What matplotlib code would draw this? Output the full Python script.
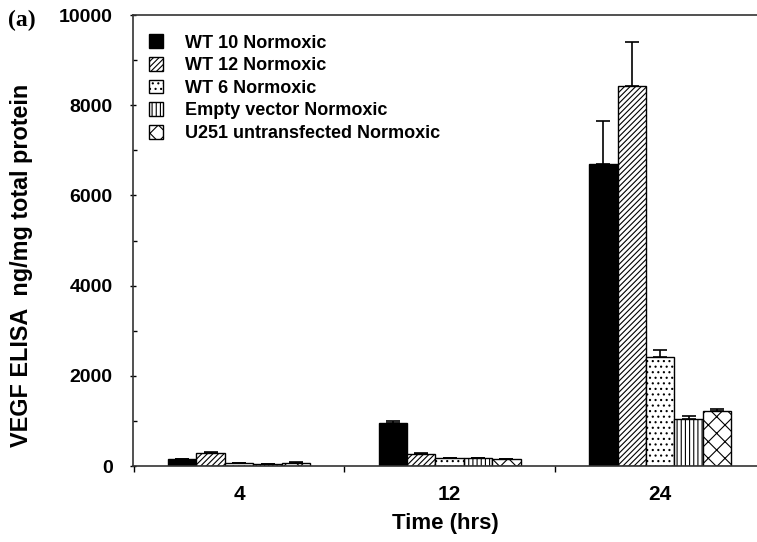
import numpy as np
import matplotlib.pyplot as plt
from matplotlib.ticker import MultipleLocator

plt.rcParams['font.family'] = ['Liberation Sans', 'DejaVu Sans']
plt.rcParams['font.weight'] = 'bold'
plt.rcParams['hatch.linewidth'] = 0.8

# Datos
tiempos = ['4', '12', '24']
series = ['WT 10 Normoxic', 'WT 12 Normoxic', 'WT 6 Normoxic',
          'Empty vector Normoxic', 'U251 untransfected Normoxic']
valores = [
    [150, 955, 6690],    # WT 10
    [295, 260, 8430],    # WT 12
    [65, 170, 2410],     # WT 6
    [35, 170, 1050],     # Empty vector
    [70, 150, 1230],     # U251
]
errores = [
    [15, 45, 960],
    [15, 20, 970],
    [10, 10, 160],
    [5, 10, 60],
    [10, 10, 45],
]

colores = ['black', 'white', 'white', 'white', 'white']
tramas = [None, '//////', '...', '||||', 'xx']

fig = plt.figure(figsize=(7.57, 5.42), dpi=100)
ax = fig.add_axes([0.1757, 0.1402, 0.8243, 0.832])

x = np.arange(len(tiempos))
ancho = 0.135
for i in range(len(series)):
    pos = x + (i - 2) * ancho
    ax.bar(pos, valores[i], ancho, color=colores[i], edgecolor='black',
           hatch=tramas[i], linewidth=1.0, label=series[i])
    ax.errorbar(pos, valores[i], yerr=[np.zeros(3), errores[i]], fmt='none',
                ecolor='black', elinewidth=1.2, capsize=5, capthick=1.2)

ax.set_xlim(-0.504, 2.46)
ax.set_ylim(0, 10000)
ax.set_xticks([-0.5, 0.5, 1.5])
ax.set_xticklabels([])
ax.set_xticks(x, minor=True)
ax.set_xticklabels(tiempos, minor=True, fontsize=15, fontweight='bold')
ax.tick_params(axis='x', which='minor', length=0, pad=14)
ax.tick_params(axis='x', which='major', length=4, direction='out', width=1)

ax.set_yticks(np.arange(0, 10001, 2000))
ax.yaxis.set_minor_locator(MultipleLocator(1000))
ax.tick_params(axis='y', which='major', length=5, direction='inout', width=1,
               labelsize=14, pad=12)
ax.tick_params(axis='y', which='minor', length=3, direction='in', width=1)
for t in ax.get_yticklabels():
    t.set_fontweight('bold')

ax.spines['right'].set_visible(False)
for s in ['left', 'bottom', 'top']:
    ax.spines[s].set_linewidth(1.2)
    ax.spines[s].set_color('#333333')

ax.set_xlabel('Time (hrs)', fontsize=16, fontweight='bold', labelpad=6)
ax.set_ylabel('VEGF ELISA  ng/mg total protein', fontsize=16.8,
              fontweight='bold')
ax.yaxis.set_label_coords(-0.160, 0.446)

ax.legend(loc='upper left', frameon=False, fontsize=13, handlelength=0.8,
          handleheight=0.8, handletextpad=1.2, labelspacing=0.3,
          borderaxespad=0.3, bbox_to_anchor=(0.005, 0.985))

fig.text(0.010, 0.962, '(a)', fontsize=17, fontweight='bold',
         family='Liberation Serif', va='center')

fig.savefig('out.png', dpi=100)
